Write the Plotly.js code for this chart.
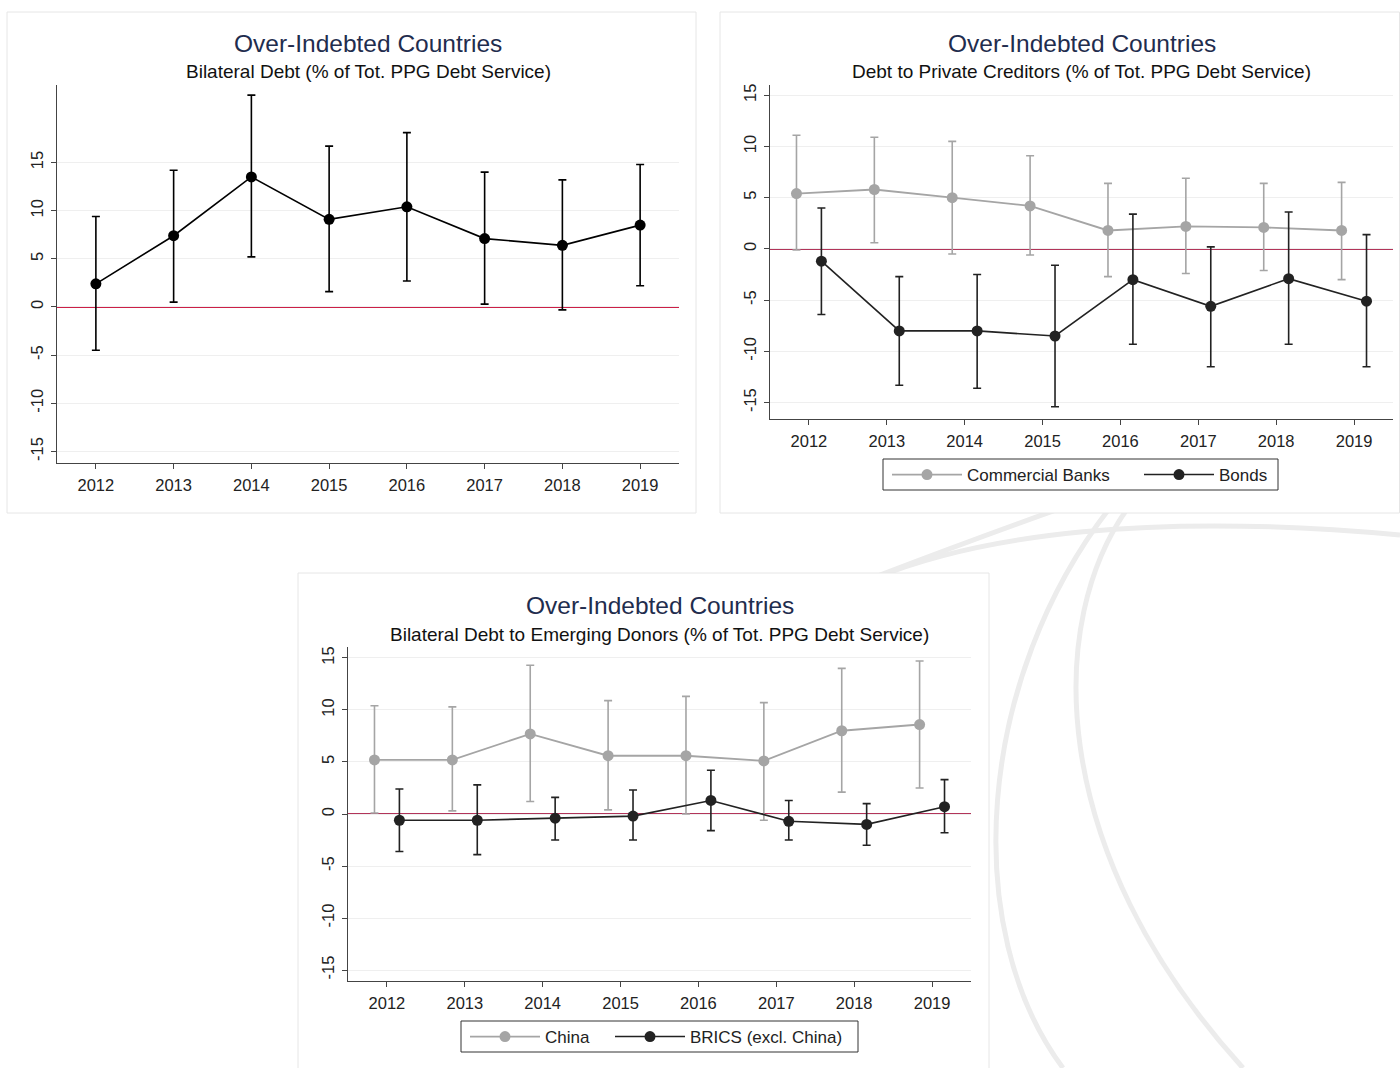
<!DOCTYPE html>
<html>
<head>
<meta charset="utf-8">
<script src="https://cdn.plot.ly/plotly-3.0.1.min.js"></script>
<style>html,body{margin:0;padding:0;background:#fff;}#chart{width:1400px;height:1068px;}</style>
</head>
<body>
<div id="chart"></div>
<script>
// ---------------- data ----------------
const years = [2012, 2013, 2014, 2015, 2016, 2017, 2018, 2019];
const yTickVals = [-15, -10, -5, 0, 5, 10, 15];
const yTickText = ['-15', '-10', '-5', '0', '5', '10', '15'];

const mainTitle = 'Over-Indebted Countries';
const subTitle1 = 'Bilateral Debt (% of Tot. PPG Debt Service)';
const subTitle2 = 'Debt to Private Creditors (% of Tot. PPG Debt Service)';
const subTitle3 = 'Bilateral Debt to Emerging Donors (% of Tot. PPG Debt Service)';

// Panel 1: Bilateral debt
const bilateralValue = [2.4, 7.4, 13.5, 9.1, 10.4, 7.1, 6.4, 8.5];
const bilateralLower = [-4.5, 0.5, 5.2, 1.6, 2.7, 0.3, -0.3, 2.2];
const bilateralUpper = [9.4, 14.2, 22.0, 16.7, 18.1, 14.0, 13.2, 14.8];

// Panel 2: Private creditors
const banksName = 'Commercial Banks';
const banksValue = [5.4, 5.8, 5.0, 4.2, 1.8, 2.2, 2.1, 1.8];
const banksLower = [-0.1, 0.6, -0.5, -0.6, -2.7, -2.4, -2.1, -3.0];
const banksUpper = [11.1, 10.9, 10.5, 9.1, 6.4, 6.9, 6.4, 6.5];

const bondsName = 'Bonds';
const bondsValue = [-1.2, -8.0, -8.0, -8.5, -3.0, -5.6, -2.9, -5.1];
const bondsLower = [-6.4, -13.3, -13.6, -15.4, -9.3, -11.5, -9.3, -11.5];
const bondsUpper = [4.0, -2.7, -2.5, -1.6, 3.4, 0.2, 3.6, 1.4];

// Panel 3: Emerging donors
const chinaName = 'China';
const chinaValue = [5.2, 5.2, 7.7, 5.6, 5.6, 5.1, 8.0, 8.6];
const chinaLower = [0.1, 0.3, 1.2, 0.4, 0.0, -0.6, 2.1, 2.5];
const chinaUpper = [10.4, 10.3, 14.3, 10.9, 11.3, 10.7, 14.0, 14.7];

const bricsName = 'BRICS (excl. China)';
const bricsValue = [-0.6, -0.6, -0.4, -0.2, 1.3, -0.7, -1.0, 0.7];
const bricsLower = [-3.6, -3.9, -2.5, -2.5, -1.6, -2.5, -3.0, -1.8];
const bricsUpper = [2.4, 2.8, 1.6, 2.3, 4.2, 1.3, 1.0, 3.3];

// ---------------- style ----------------
const W = 1400, H = 1068;
const FONT = 'Liberation Sans, Arial, Helvetica, sans-serif';
const GREY = '#a5a5a5';
const DARK = '#222222';
const BLACK = '#000000';
const px = v => v / W;
const py = v => 1 - v / H;
const dodge = 0.16;

function series(x, v, lo, hi, color, msize, lw, name, xa, ya, legend, showlegend) {
  return {
    type: 'scatter', mode: 'lines+markers', name: name,
    x: x, y: v, xaxis: xa, yaxis: ya, legend: legend, showlegend: showlegend,
    line: {color: color, width: lw},
    marker: {color: color, size: msize, symbol: 'circle'},
    error_y: {
      type: 'data', symmetric: false,
      array: hi.map((h, i) => h - v[i]),
      arrayminus: v.map((val, i) => val - lo[i]),
      color: color, thickness: 1.6, width: 4
    },
    hoverinfo: 'skip'
  };
}

const traces = [
  series(years, bilateralValue, bilateralLower, bilateralUpper, BLACK, 11, 1.6, 'Bilateral Debt', 'x', 'y', 'legend', false),
  series(years.map(y => y - dodge), banksValue, banksLower, banksUpper, GREY, 11, 1.8, banksName, 'x2', 'y2', 'legend', true),
  series(years.map(y => y + dodge), bondsValue, bondsLower, bondsUpper, DARK, 11, 1.6, bondsName, 'x2', 'y2', 'legend2', true),
  series(years.map(y => y - dodge), chinaValue, chinaLower, chinaUpper, GREY, 11, 1.8, chinaName, 'x3', 'y3', 'legend3', true),
  series(years.map(y => y + dodge), bricsValue, bricsLower, bricsUpper, DARK, 11, 1.6, bricsName, 'x3', 'y3', 'legend4', true)
];

function xAxis(domain, anchor) {
  return {
    domain: domain, anchor: anchor, range: [2011.5, 2019.5],
    tickvals: years, ticktext: years.map(String),
    ticks: 'outside', ticklen: 5, tickcolor: '#444', tickwidth: 1,
    showline: true, linecolor: '#444', linewidth: 1,
    showgrid: false, zeroline: false, ticklabelstandoff: 2,
    tickfont: {family: FONT, size: 16.5, color: '#222'}, fixedrange: true
  };
}
function yAxis(domain, anchor, range) {
  return {
    domain: domain, anchor: anchor, range: range,
    tickvals: yTickVals, ticktext: yTickText, tickangle: -90,
    ticks: 'outside', ticklen: 5, tickcolor: '#444', tickwidth: 1,
    showline: true, linecolor: '#444', linewidth: 1,
    showgrid: true, gridcolor: '#efefef', gridwidth: 1,
    zeroline: false, ticklabelstandoff: 1,
    tickfont: {family: FONT, size: 16.5, color: '#222'}, fixedrange: true
  };
}

function titles(cx, yTop, sub) {
  return [
    {text: mainTitle, xref: 'paper', yref: 'paper', x: px(cx), y: py(yTop), xanchor: 'center', yanchor: 'middle',
     showarrow: false, font: {family: FONT, size: 24.5, color: '#1f2d4e'}},
    {text: sub, xref: 'paper', yref: 'paper', x: px(cx), y: py(yTop + 29), xanchor: 'center', yanchor: 'middle',
     showarrow: false, font: {family: FONT, size: 19, color: '#111'}}
  ];
}

function zeroLine(xa, ya, color) {
  return {type: 'line', xref: xa + ' domain', yref: ya, x0: 0, x1: 1, y0: 0, y1: 0,
          layer: 'below', line: {color: color, width: 2}};
}

function pathFrom(cmds) {
  return cmds.map(c => c[0] + ' ' + c.slice(1).reduce((a, v, i) => a.concat(i % 2 === 0 ? px(v) : py(v)), []).join(',')).join(' ');
}
const arcStyle = {color: '#ececec', width: 5};
const arcs = [
  [['M', 1112, 505], ['C', 975, 680, 960, 930, 1063, 1068]],
  [['M', 1130, 505], ['C', 1045, 620, 1045, 850, 1243, 1068]],
  [['M', 875, 578], ['C', 980, 535, 1150, 512, 1400, 535]],
  [['M', 880, 575], ['Q', 985, 535, 1070, 505]]
].map(c => ({type: 'path', xref: 'paper', yref: 'paper', layer: 'below', path: pathFrom(c), line: arcStyle}));

function box(x0, y0, x1, y1) {
  return {type: 'rect', xref: 'paper', yref: 'paper', layer: 'below',
          x0: px(x0), x1: px(x1), y0: py(y1), y1: py(y0),
          line: {color: '#e6e6e6', width: 1}, fillcolor: '#ffffff'};
}
function legendBox(x0, y0, x1, y1) {
  return {type: 'rect', xref: 'paper', yref: 'paper', layer: 'above',
          x0: px(x0), x1: px(x1), y0: py(y1), y1: py(y0),
          line: {color: '#333333', width: 1}, fillcolor: 'rgba(0,0,0,0)'};
}

function legendAt(xLeft, yMid) {
  return {
    x: px(xLeft), y: py(yMid), xanchor: 'left', yanchor: 'middle', orientation: 'h',
    bgcolor: 'rgba(0,0,0,0)', borderwidth: 0,
    font: {family: FONT, size: 17, color: '#222'}, itemwidth: 70
  };
}

const layout = {
  width: W, height: H,
  margin: {l: 0, r: 0, t: 0, b: 0},
  paper_bgcolor: '#ffffff', plot_bgcolor: 'rgba(0,0,0,0)',
  font: {family: FONT, color: '#222'},
  xaxis: xAxis([px(57), px(679)], 'y'),
  yaxis: yAxis([py(463), py(85)], 'x', [-16.2, 23.05]),
  xaxis2: xAxis([px(770), px(1393)], 'y2'),
  yaxis2: yAxis([py(419), py(85)], 'x2', [-16.6, 16.0]),
  xaxis3: xAxis([px(348), px(971)], 'y3'),
  yaxis3: yAxis([py(981), py(647)], 'x3', [-16.05, 16.05]),
  legend: legendAt(887, 475),
  legend2: legendAt(1139, 475),
  legend3: legendAt(465, 1037),
  legend4: legendAt(610, 1037),
  shapes: arcs.concat([
    box(7, 12, 696, 513), box(720, 12, 1399.5, 513), box(298, 573, 989, 1075),
    zeroLine('x', 'y', '#cc1f47'), zeroLine('x2', 'y2', '#b2345a'), zeroLine('x3', 'y3', '#b2345a'),
    legendBox(883, 459, 1278, 490), legendBox(461, 1021, 858, 1052)
  ]),
  annotations: titles(368, 43, subTitle1).concat(titles(1081.5, 43, subTitle2), titles(659.5, 605, subTitle3)),
  showlegend: true
};

Plotly.newPlot('chart', traces, layout, {staticPlot: true, displayModeBar: false});
</script>
</body>
</html>
